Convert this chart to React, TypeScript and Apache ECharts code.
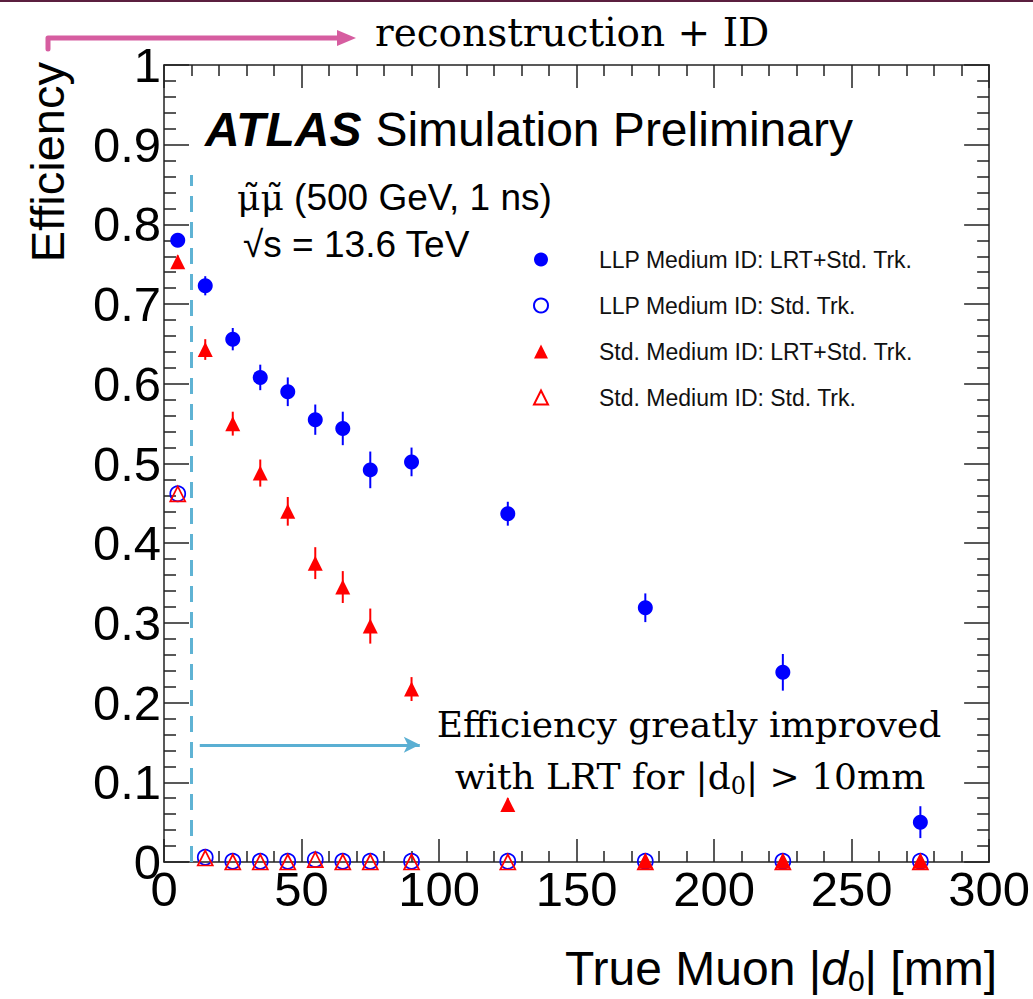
import React, { useEffect, useRef } from "react";
import * as echarts from "echarts";

// Bin centres of the true muon |d0| distribution [mm]
const d0Bins = [5, 15, 25, 35, 45, 55, 65, 75, 90, 125, 175, 225, 275];

// LLP Medium ID, LRT + standard tracking
const llpLrtEff = [0.78, 0.723, 0.656, 0.608, 0.59, 0.555, 0.544, 0.492, 0.502, 0.437, 0.319, 0.238, 0.05];
const llpLrtErr = [0.008, 0.012, 0.014, 0.016, 0.018, 0.019, 0.021, 0.023, 0.018, 0.015, 0.018, 0.023, 0.02];

// LLP Medium ID, standard tracking only
const llpStdEff = [0.462, 0.006, 0.001, 0.001, 0.001, 0.003, 0.001, 0.001, 0.001, 0.001, 0.001, 0.001, 0.001];

// Std. Medium ID, LRT + standard tracking
const stdLrtEff = [0.753, 0.643, 0.55, 0.488, 0.44, 0.375, 0.345, 0.296, 0.217, 0.072, 0.001, 0.001, 0.001];
const stdLrtErr = [0.008, 0.013, 0.015, 0.017, 0.018, 0.02, 0.02, 0.022, 0.015, 0.008, 0, 0, 0];

// Std. Medium ID, standard tracking only
const stdStdEff = [0.462, 0.005, 0, 0, 0, 0.003, 0, 0, 0, 0, 0, 0, 0];

const seriesNames = [
  "LLP Medium ID: LRT+Std. Trk.",
  "LLP Medium ID: Std. Trk.",
  "Std. Medium ID: LRT+Std. Trk.",
  "Std. Medium ID: Std. Trk.",
];

const xTicks = [0, 50, 100, 150, 200, 250, 300];
const yTickStep = 0.1;

const BLUE = "#0000ff";
const RED = "#ff0000";
const SANS = "Liberation Sans, Arial, Helvetica, sans-serif";
const SERIF = "DejaVu Serif, serif";

function errorBars(values: number[], errs: number[], color: string) {
  return {
    type: "custom",
    z: 2,
    silent: true,
    clip: false,
    data: d0Bins.map((x, i) => [x, values[i] - errs[i], values[i] + errs[i]]),
    renderItem: (_params: any, api: any) => {
      const a = api.coord([api.value(0), api.value(1)]);
      const b = api.coord([api.value(0), api.value(2)]);
      return {
        type: "line",
        shape: { x1: a[0], y1: a[1], x2: b[0], y2: b[1] },
        style: { stroke: color, lineWidth: 2 },
      };
    },
  };
}

function points(name: string, values: number[], symbol: string, color: string, filled: boolean, z: number) {
  return {
    type: "scatter",
    name,
    z,
    clip: false,
    symbol,
    symbolSize: 15,
    data: d0Bins.map((x, i) => [x, values[i]]),
    itemStyle: filled
      ? { color, opacity: 1 }
      : { color: "rgba(255,255,255,0)", borderColor: color, borderWidth: 1.7, opacity: 1 },
  };
}

const frameAxisLine = { show: true, onZero: false, lineStyle: { color: "#222", width: 1.5 } };
const tickLine = { color: "#222", width: 1.5 };

export default function App() {
  const ref = useRef<HTMLDivElement>(null);

  useEffect(() => {
    if (!ref.current) return;
    const chart = echarts.init(ref.current, null, { renderer: "svg" });

    const xCommon = {
      type: "value",
      min: xTicks[0],
      max: xTicks[xTicks.length - 1],
      interval: xTicks[1] - xTicks[0],
      axisLine: frameAxisLine,
      axisTick: { show: true, inside: true, length: 23, lineStyle: tickLine },
      minorTick: { show: true, splitNumber: 5, length: 11, lineStyle: tickLine },
      splitLine: { show: false },
    };
    const yCommon = {
      type: "value",
      min: 0,
      max: 1,
      interval: yTickStep,
      axisLine: frameAxisLine,
      axisTick: { show: true, inside: true, length: 25, lineStyle: tickLine },
      minorTick: { show: true, splitNumber: 5, length: 12, lineStyle: tickLine },
      splitLine: { show: false },
    };

    chart.setOption({
      animation: false,
      backgroundColor: "#ffffff",
      grid: { left: 164, right: 39, top: 65, bottom: 137 },
      xAxis: [
        {
          ...xCommon,
          position: "bottom",
          axisLabel: { fontSize: 49, color: "#000", fontFamily: SANS, margin: 2 },
        },
        { ...xCommon, position: "top", axisLabel: { show: false } },
      ],
      yAxis: [
        {
          ...yCommon,
          position: "left",
          axisLabel: {
            fontSize: 49,
            color: "#000",
            fontFamily: SANS,
            margin: 3,
            formatter: (v: number) => (v === 0 ? "0" : v === 1 ? "1" : v.toFixed(1)),
          },
        },
        { ...yCommon, position: "right", axisLabel: { show: false } },
      ],
      legend: {
        orient: "vertical",
        left: 528,
        top: 243,
        itemWidth: 14,
        itemHeight: 14,
        itemGap: 23,
        data: seriesNames,
        selectedMode: false,
        textStyle: { fontSize: 23, color: "#111", fontFamily: SANS, padding: [0, 0, 0, 46] },
      },
      series: [
        errorBars(llpLrtEff, llpLrtErr, BLUE),
        errorBars(stdLrtEff, stdLrtErr, RED),
        {
          ...points(seriesNames[0], llpLrtEff, "circle", BLUE, true, 3),
          markLine: {
            silent: true,
            symbol: ["none", "none"],
            label: { show: false },
            lineStyle: { color: "#5fb3d4", width: 3, type: [16, 10], opacity: 1 },
            data: [[{ coord: [10, 0] }, { coord: [10, 0.862] }]],
          },
        },
        points(seriesNames[1], llpStdEff, "circle", BLUE, false, 4),
        {
          ...points(seriesNames[2], stdLrtEff, "triangle", RED, true, 5),
          markLine: {
            silent: true,
            symbol: ["none", "arrow"],
            symbolSize: [12, 16],
            label: { show: false },
            lineStyle: { color: "#5aafd3", width: 3, type: "solid", opacity: 1 },
            data: [[{ coord: [13, 0.147] }, { coord: [93, 0.147] }]],
          },
        },
        points(seriesNames[3], stdStdEff, "triangle", RED, false, 6),
      ],
      graphic: [
        // slide header rule
        { type: "rect", shape: { x: 0, y: 0, width: 1033, height: 2 }, style: { fill: "#5b1f3f" } },
        // bracket arrow to the heading
        {
          type: "polyline",
          shape: { points: [[48, 49], [48, 38], [340, 38]] },
          style: { stroke: "#d65da0", lineWidth: 5, lineCap: "round", lineJoin: "round", fill: null },
        },
        {
          type: "polygon",
          shape: { points: [[337, 30], [356, 38], [337, 46]] },
          style: { fill: "#d65da0" },
        },
        {
          type: "text",
          x: 375,
          y: 32,
          style: {
            text: "reconstruction + ID",
            font: `39px ${SERIF}`,
            fill: "#000",
            verticalAlign: "middle",
          },
        },
        // axis titles
        {
          type: "text",
          x: 47,
          y: 62,
          rotation: Math.PI / 2,
          style: {
            text: "Efficiency",
            font: `47px ${SANS}`,
            fill: "#000",
            align: "right",
            verticalAlign: "middle",
          },
        },
        {
          type: "text",
          x: 997,
          y: 941,
          style: {
            align: "right",
            verticalAlign: "top",
            text: "{n|True Muon |}{i|d}{s|0}{n|| [mm]}",
            rich: {
              n: { fontSize: 48, fontFamily: SANS, fill: "#000", lineHeight: 54 },
              i: { fontSize: 48, fontFamily: SANS, fontStyle: "italic", fill: "#000", lineHeight: 54 },
              s: { fontSize: 30, fontFamily: SANS, fill: "#000", lineHeight: 18, verticalAlign: "bottom" },
            },
          },
        },
        // ATLAS label
        {
          type: "text",
          x: 205,
          y: 129,
          style: {
            verticalAlign: "middle",
            text: "{b|ATLAS}{n|Simulation Preliminary}",
            rich: {
              b: { fontSize: 48, fontFamily: SANS, fontWeight: "bold", fontStyle: "italic", fill: "#000" },
              n: { fontSize: 48, fontFamily: SANS, fill: "#000", padding: [0, 0, 0, 14] },
            },
          },
        },
        {
          type: "text",
          x: 237,
          y: 197,
          style: {
            verticalAlign: "middle",
            text: "{m|\u03bc\u0303\u03bc\u0303}{n| (500 GeV, 1 ns)}",
            rich: {
              m: { fontSize: 36, fontFamily: SERIF, fill: "#000" },
              n: { fontSize: 37, fontFamily: SANS, fill: "#000" },
            },
          },
        },
        {
          type: "text",
          x: 243,
          y: 244,
          style: {
            text: "\u221as = 13.6 TeV",
            font: `37px ${SANS}`,
            fill: "#000",
            verticalAlign: "middle",
          },
        },
        // annotation
        {
          type: "text",
          x: 689,
          y: 724,
          style: {
            text: "Efficiency greatly improved",
            font: `36px ${SERIF}`,
            fill: "#000",
            align: "center",
            verticalAlign: "middle",
          },
        },
        {
          type: "text",
          x: 690,
          y: 776,
          style: {
            align: "center",
            verticalAlign: "middle",
            text: "{n|with LRT for |d}{s|0}{n|| > 10mm}",
            rich: {
              n: { fontSize: 36, fontFamily: SERIF, fill: "#000", lineHeight: 44 },
              s: { fontSize: 24, fontFamily: SERIF, fill: "#000", lineHeight: 14, verticalAlign: "bottom" },
            },
          },
        },
      ],
    });

    return () => chart.dispose();
  }, []);

  return (
    <div
      ref={ref}
      style={{ position: "absolute", left: 0, top: 0, width: 1033, height: 999, background: "#fff" }}
    />
  );
}
